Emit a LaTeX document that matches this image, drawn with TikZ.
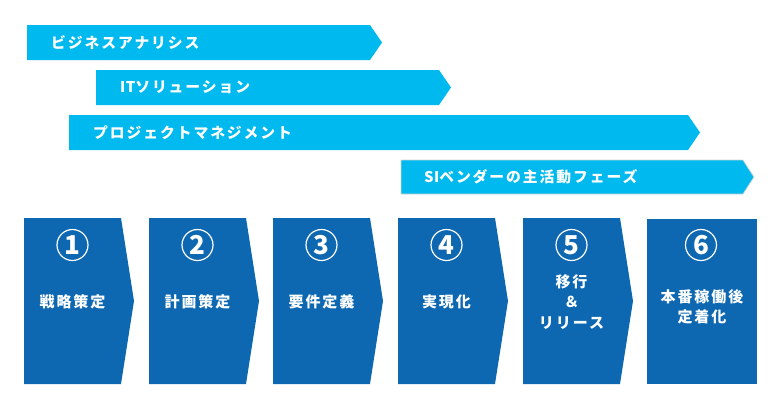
\documentclass[tikz,border=0pt]{standalone}
\usepackage{fontspec}
\usepackage{tikz}
\newfontfamily\jpfont{Noto Sans CJK JP}[LetterSpace=13]
\newfontfamily\jplatin{Noto Sans CJK JP}[LetterSpace=3]
\definecolor{bannercyan}{HTML}{00B9EF}
\definecolor{phaseblue}{HTML}{0D68B1}
\definecolor{bannerrim}{HTML}{D4D4D4}
\tikzset{
  banner/.style={fill=bannercyan},
  bannertext/.style={anchor=west, text=white, inner sep=0pt, font=\jpfont\bfseries\fontsize{14.8}{18}\selectfont},
  phase/.style={fill=phaseblue},
  phasetext/.style={text=white, align=center, inner sep=0pt, font=\jpfont\bfseries\fontsize{15}{20.5}\selectfont},
  phasenum/.style={circle, draw=white, line width=1.2pt, minimum size=31pt, inner sep=0pt, text=white, font=\jplatin\bfseries\fontsize{26}{26}\selectfont}
}
\begin{document}
\begin{tikzpicture}[x=1pt, y=-1pt]

\useasboundingbox (0,0) rectangle (780,400);

\fill[banner] (27,25) -- (370,25) -- (382,42.5) -- (370,60) -- (27,60) -- cycle;
\node[bannertext] (ba) at (51,42.5) {ビジネスアナリシス};

\fill[banner] (96,70) -- (439,70) -- (451,87.5) -- (439,105) -- (96,105) -- cycle;
\node[bannertext] (it) at (120,87.5) {{\jplatin IT}ソリューション};

\fill[banner] (69,115) -- (688,115) -- (700,132.5) -- (688,150) -- (69,150) -- cycle;
\node[bannertext] (pm) at (93,132.5) {プロジェクトマネジメント};

\draw[banner, draw=bannerrim, line width=0.8pt] (401,160) -- (743,160) -- (754,177) -- (743,194) -- (401,194) -- cycle;
\node[bannertext] (si) at (424,177) {{\jplatin SI}ベンダーの主活動フェーズ};

\fill[phase] (24,218) -- (121,218) -- (134,301) -- (121,384) -- (24,384) -- cycle;
\node[phasenum] (n1) at (72.5,245) {1};
\node[phasetext] (p1) at (72.5,302) {戦略策定};

\fill[phase] (149,218) -- (246,218) -- (259,301) -- (246,384) -- (149,384) -- cycle;
\node[phasenum] (n2) at (197.5,245) {2};
\node[phasetext] (p2) at (197.5,302) {計画策定};

\fill[phase] (273,218) -- (370,218) -- (383,301) -- (370,384) -- (273,384) -- cycle;
\node[phasenum] (n3) at (321.5,245) {3};
\node[phasetext] (p3) at (321.5,302) {要件定義};

\fill[phase] (398,218) -- (495,218) -- (508,301) -- (495,384) -- (398,384) -- cycle;
\node[phasenum] (n4) at (446.5,245) {4};
\node[phasetext] (p4) at (446.5,302) {実現化};

\fill[phase] (523,218) -- (620,218) -- (633,301) -- (620,384) -- (523,384) -- cycle;
\node[phasenum] (n5) at (571.5,245) {5};
\node[phasetext] (p5) at (571.5,302) {移行\\＆\\リリース};

\fill[phase] (647,219) rectangle (757,384);
\node[phasenum] (n6) at (701,245) {6};
\node[phasetext] (p6) at (702,307) {本番稼働後\\定着化};

\end{tikzpicture}
\end{document}
